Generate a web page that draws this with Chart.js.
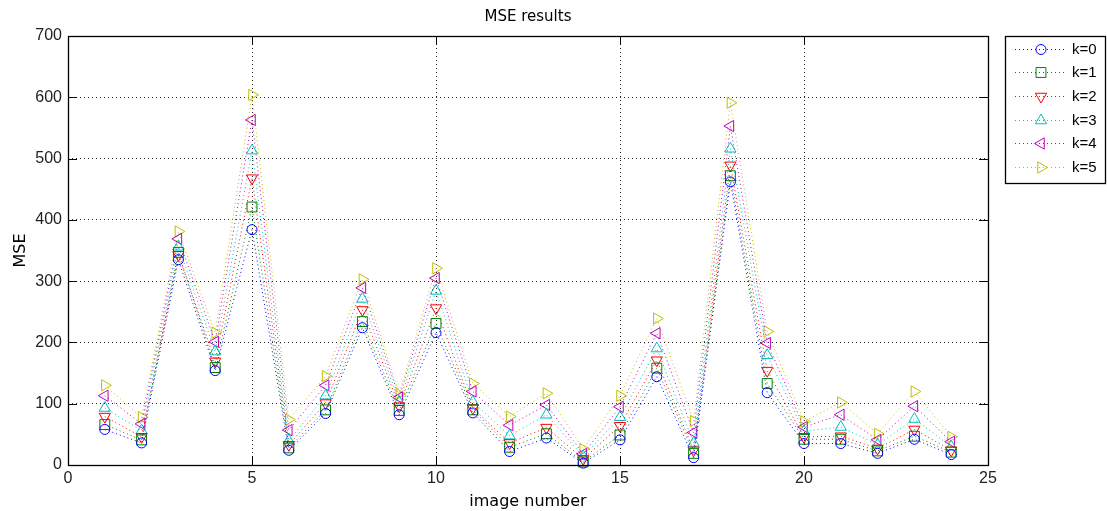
<!DOCTYPE html>
<html>
<head>
<meta charset="utf-8">
<script src="https://cdn.jsdelivr.net/npm/chart.js@4"></script>
<style>
  html, body { margin: 0; padding: 0; background: #fff; }
  #wrap { width: 1107px; height: 511px; position: relative; }
</style>
</head>
<body>
<div id="wrap"><canvas id="mseChart"></canvas></div>
<script>
// image numbers 1..24
const imageNumbers = [1, 2, 3, 4, 5, 6, 7, 8, 9, 10, 11, 12, 13, 14, 15, 16, 17, 18, 19, 20, 21, 22, 23, 24];

const mseK0 = [58, 36, 335, 154, 384, 24, 84, 224, 82, 216, 85, 22, 44, 3, 41, 144, 12, 462, 118, 35, 35, 19, 42, 17];
const mseK1 = [66, 41, 347, 159, 421, 28, 90, 234, 89, 231, 90, 29, 51, 5, 49, 158, 19, 472, 133, 42, 42, 23, 47, 21];
const mseK2 = [79, 46, 343, 169, 468, 33, 101, 253, 96, 256, 93, 36, 61, 10, 64, 171, 24, 489, 154, 46, 47, 27, 58, 24];
const mseK3 = [93, 56, 356, 185, 513, 40, 113, 271, 103, 284, 103, 48, 82, 14, 78, 190, 36, 516, 179, 55, 62, 33, 75, 30];
const mseK4 = [113, 67, 369, 201, 563, 57, 130, 289, 110, 305, 120, 65, 98, 18, 95, 215, 53, 553, 199, 62, 82, 41, 96, 38];
const mseK5 = [130, 78, 381, 216, 604, 74, 145, 303, 116, 321, 133, 79, 117, 26, 113, 239, 72, 591, 218, 71, 102, 51, 120, 46];

const seriesLabels = ['k=0', 'k=1', 'k=2', 'k=3', 'k=4', 'k=5'];
const xTicks = [0, 5, 10, 15, 20, 25];
const yTicks = [0, 100, 200, 300, 400, 500, 600, 700];

const seriesValues = [mseK0, mseK1, mseK2, mseK3, mseK4, mseK5];
const colors = ['#0000ff', '#008000', '#ff0000', '#00bfbf', '#bf00bf', '#bfbf00'];
const markers = [
    { style: 'circle', radius: 5, rotation: 0 },
    { style: 'rect', radius: 7, rotation: 0 },
    { style: 'triangle', radius: 6.5, rotation: 180 },
    { style: 'triangle', radius: 6.5, rotation: 0 },
    { style: 'triangle', radius: 6.5, rotation: 270 },
    { style: 'triangle', radius: 6.5, rotation: 90 }
];

const datasets = seriesValues.map((vals, i) => ({
    label: seriesLabels[i],
    data: vals.map((v, j) => ({ x: imageNumbers[j], y: v })),
    borderColor: colors[i],
    backgroundColor: 'rgba(0,0,0,0)',
    borderWidth: 1,
    borderDash: [1, 3],
    pointStyle: markers[i].style,
    pointRadius: markers[i].radius,
    pointRotation: markers[i].rotation,
    pointBorderWidth: 1,
    pointBorderColor: colors[i],
    pointBackgroundColor: 'rgba(0,0,0,0)',
    fill: false,
    tension: 0,
    clip: false
}));

// matlab-like title, box, inside tick marks and legend
const matlabPlugin = {
    id: 'matlabBox',
    afterDraw(chart) {
        const { ctx, chartArea: a, scales } = chart;
        ctx.save();

        // title centred over the axes
        ctx.fillStyle = '#000';
        ctx.font = '15px "DejaVu Sans", sans-serif';
        ctx.textAlign = 'center';
        ctx.textBaseline = 'middle';
        ctx.fillText('MSE results', (a.left + a.right) / 2, 17.5);
        ctx.textAlign = 'left';

        ctx.strokeStyle = '#000';
        ctx.lineWidth = 1;
        ctx.setLineDash([]);
        // ticks
        ctx.beginPath();
        xTicks.forEach(t => {
            const x = Math.round(scales.x.getPixelForValue(t)) + 0.5;
            ctx.moveTo(x, a.bottom); ctx.lineTo(x, a.bottom - 9);
            ctx.moveTo(x, a.top); ctx.lineTo(x, a.top + 9);
        });
        yTicks.forEach(t => {
            const y = Math.round(scales.y.getPixelForValue(t)) + 0.5;
            ctx.moveTo(a.left, y); ctx.lineTo(a.left + 9, y);
            ctx.moveTo(a.right, y); ctx.lineTo(a.right - 9, y);
        });
        ctx.stroke();
        ctx.lineWidth = 1.3;
        ctx.strokeRect(Math.round(a.left) + 0.5, Math.round(a.top) + 0.5,
            Math.round(a.right - a.left), Math.round(a.bottom - a.top));

        // legend
        const lx = 1005, ly = 36, lw = 100, lh = 147;
        ctx.fillStyle = '#fff';
        ctx.fillRect(lx, ly, lw, lh);
        ctx.lineWidth = 1.3;
        ctx.strokeStyle = '#000';
        ctx.strokeRect(lx + 0.5, ly + 0.5, lw, lh);
        ctx.font = '15px "Liberation Sans", Arial, sans-serif';
        ctx.textBaseline = 'middle';
        chart.data.datasets.forEach((ds, i) => {
            const y = Math.round(48.5 + i * 23.7) + 0.5;
            ctx.strokeStyle = ds.borderColor;
            ctx.lineWidth = 1;
            ctx.setLineDash([1, 3]);
            ctx.beginPath();
            ctx.moveTo(1015, y); ctx.lineTo(1067, y);
            ctx.stroke();
            ctx.setLineDash([]);
            ctx.fillStyle = 'rgba(0,0,0,0)';
            Chart.helpers.drawPoint(ctx, {
                pointStyle: ds.pointStyle,
                rotation: ds.pointRotation,
                radius: ds.pointRadius,
                borderWidth: 1
            }, 1041, y);
            ctx.fillStyle = '#000';
            ctx.fillText(ds.label, 1072, y);
        });
        ctx.restore();
    }
};

const tickFont = { family: '"Liberation Sans", Arial, sans-serif', size: 16 };
const titleFont = { family: '"DejaVu Sans", sans-serif', size: 16 };

new Chart(document.getElementById('mseChart').getContext('2d'), {
    type: 'line',
    data: { datasets: datasets },
    plugins: [matlabPlugin],
    options: {
        responsive: true,
        maintainAspectRatio: false,
        animation: false,
        layout: { padding: { left: 0, top: 36, right: 119, bottom: 0 } },
        plugins: {
            legend: { display: false },
            tooltip: { enabled: false },
            title: { display: false }
        },
        scales: {
            x: {
                type: 'linear',
                min: 0,
                max: 25,
                afterFit: (scale) => { scale.height = 46; },
                afterBuildTicks: (scale) => { scale.ticks = xTicks.map(v => ({ value: v })); },
                ticks: { color: '#222', font: tickFont, padding: 4, maxRotation: 0 },
                grid: { color: 'rgba(0,0,0,0.85)', lineWidth: 1, drawTicks: false },
                border: { display: false, dash: [1, 3] },
                title: { display: true, text: 'image number', color: '#000', font: titleFont, padding: { top: 0, bottom: 0 } }
            },
            y: {
                min: 0,
                max: 700,
                afterFit: (scale) => { scale.width = 68; },
                afterBuildTicks: (scale) => { scale.ticks = yTicks.map(v => ({ value: v })); },
                ticks: { color: '#222', font: tickFont, padding: 6 },
                grid: { color: 'rgba(0,0,0,0.85)', lineWidth: 1, drawTicks: false },
                border: { display: false, dash: [1, 3] },
                title: { display: true, text: 'MSE', color: '#000', font: titleFont, padding: { top: 11, bottom: 0 } }
            }
        }
    }
});
</script>
</body>
</html>
